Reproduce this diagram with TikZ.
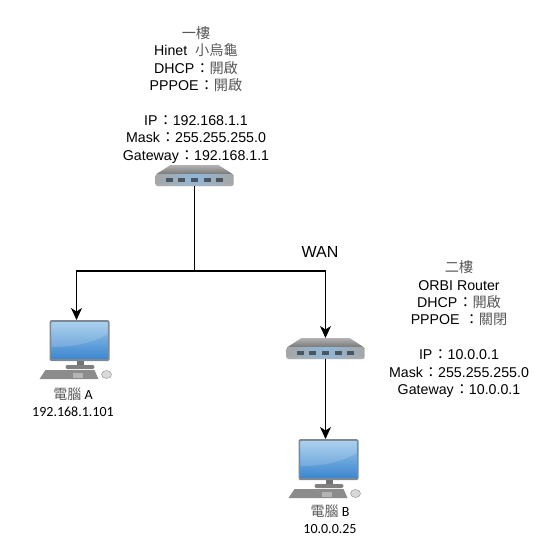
\documentclass[tikz,border=0pt]{standalone}
\usepackage{fontspec}
\usetikzlibrary{positioning,arrows.meta,calc}
\setmainfont{Liberation Sans}
\newfontfamily\cjk{Noto Sans CJK TC}
\newfontfamily\carlito{Carlito}
\newcommand{\zh}[1]{{\cjk\color{black!65}#1}}
\newcommand{\colonzh}{{\cjk\hspace{1pt}：}}
\definecolor{screentop}{HTML}{9CC8EA}
\definecolor{screenlow}{HTML}{3E88D0}
\definecolor{framegray}{HTML}{7D8A96}
\definecolor{portblue}{HTML}{8FB8DA}
\definecolor{portdark}{HTML}{4A5560}
\tikzset{
  floortext/.style={align=center,inner sep=0pt,font=\fontsize{14.2}{17.4}\selectfont},
  pctext/.style={align=center,inner sep=0pt,font=\carlito\fontsize{14}{17.5}\selectfont},
  wanlink/.style={draw=black,line width=1.4pt},
  wanarrow/.style={wanlink,-{Stealth[length=12pt,width=11pt,inset=3.5pt]}},
  routericon/.pic={
    \node[minimum width=78pt,minimum height=21pt,inner sep=0pt,anchor=north] (-box) at (0,0) {};
    \shade[top color=black!30,bottom color=black!60] (-24,0) -- (24,0) -- (38,9) -- (38,12) -- (-38,12) -- (-38,9) -- cycle;
    \shade[left color=black!35,right color=black!35,middle color=portblue,rounded corners=2pt] (-39,9) rectangle (39,21);
    \fill[black!30,opacity=0.5,rounded corners=2pt] (-39,18.5) rectangle (39,21);
    \foreach \px in {-25.2,-12.6,0,12.6,25.2}
      \fill[portdark] ($(\px,12.5)+(-3.5,0)$) rectangle ($(\px,12.5)+(3.5,4.5)$);
    \fill[yellow!70!green] (38,9.5) rectangle (39.5,11);
  },
  pcicon/.pic={
    \node[minimum width=54pt,minimum height=40pt,inner sep=0pt,anchor=north] (-box) at (0,0) {};
    \fill[framegray,rounded corners=1.5pt] (-27,0) rectangle (33,41);
    \shade[top color=screentop,bottom color=screenlow] (-25,2) rectangle (31,38);
    \fill[white,opacity=0.15] (-25,2) -- (31,2) -- (31,14) .. controls (15,24) and (-5,27) .. (-25,27) -- cycle;
    \fill[black!55] (0,41) rectangle (7,47);
    \fill[black!50,rounded corners=2pt] (-11,45) rectangle (18,49);
    \fill[black!45] (-31,50) -- (18,50) -- (22,59) -- (-37,59) -- cycle;
    \fill[white,opacity=0.35] (-4,53) rectangle (6,58);
    \draw[black!45,fill=black!15] (30,54.5) ellipse (5pt and 4pt);
  }
}
\begin{document}
\begin{tikzpicture}[x=1pt,y=-1pt]
\useasboundingbox (0,0) rectangle (543,546);
\fill[white] (0,0) rectangle (543,546);
\pic (rtop) at (194.5,165) {routericon};
\pic (rwan) at (325.5,338) {routericon};
\pic (pca) at (76.5,320) {pcicon};
\pic (pcb) at (325.5,439) {pcicon};
\coordinate (split) at (194.5,271);
\draw[wanlink] (rtop-box.south) -- (split);
\draw[wanarrow] (split) -| (pca-box.north);
\draw[wanarrow] (split) -| (rwan-box.north);
\draw[wanarrow] (rwan-box.south) -- (pcb-box.north);
\node[floortext] (toptext) at (196,94.7) {\zh{一樓}\\Hinet\ \ \zh{小烏龜}\\DHCP\colonzh\zh{開啟}\\PPPOE\colonzh\zh{開啟}\\[17.4pt]IP\colonzh 192.168.1.1\\Mask\colonzh 255.255.255.0\\Gateway\colonzh 192.168.1.1};
\node[floortext] (wantext) at (459,329) {\zh{二樓}\\ORBI Router\\DHCP\colonzh\zh{開啟}\\PPPOE \colonzh\zh{關閉}\\[17.4pt]IP\colonzh 10.0.0.1\\Mask\colonzh 255.255.255.0\\Gateway\colonzh 10.0.0.1};
\node[floortext,font=\fontsize{16}{18}\selectfont] (wanlabel) at (320,252) {WAN};
\node[pctext] (pcatext) at (73,402) {\zh{電腦} A\\192.168.1.101};
\node[pctext] (pcbtext) at (330,519) {\zh{電腦} B\\10.0.0.25};
\end{tikzpicture}
\end{document}
